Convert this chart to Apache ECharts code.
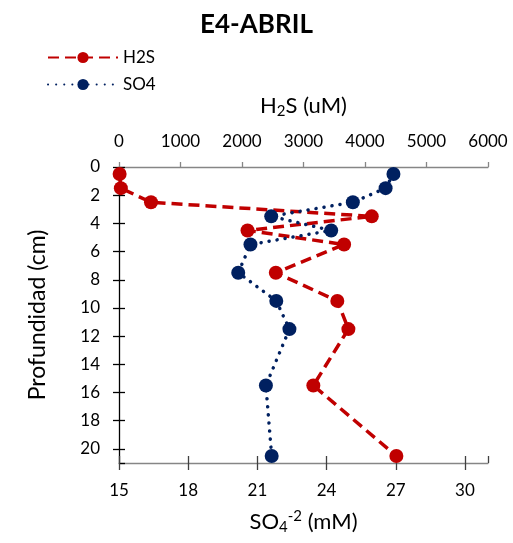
<!DOCTYPE html>
<html>
<head>
<meta charset="utf-8">
<script src="https://cdn.jsdelivr.net/npm/echarts@6/dist/echarts.min.js"></script>
<style>
  html, body { margin: 0; padding: 0; background: #fff; }
  #chart { width: 513px; height: 543px; }
</style>
</head>
<body>
<div id="chart"></div>
<script>
// Depth profile data (cm) for station E4, April
const depthH2S = [0.5, 1.5, 2.5, 3.5, 4.5, 5.5, 7.5, 9.5, 11.5, 15.5, 20.5];
const h2sValues = [10, 30, 520, 4110, 2090, 3660, 2550, 3550, 3730, 3160, 4510];   // uM
const depthSO4 = [0.5, 1.5, 2.5, 3.5, 4.5, 5.5, 7.5, 9.5, 11.5, 15.5, 20.5];
const so4Values = [26.9, 26.56, 25.14, 21.6, 24.2, 20.7, 20.17, 21.82, 22.39, 21.37, 21.62]; // mM

const FONT = 'Lato, "Open Sans", sans-serif';
const RED = '#C00000';
const NAVY = '#002060';

const chart = echarts.init(document.getElementById('chart'), null, { renderer: 'canvas' });

const h2sData = h2sValues.map((v, i) => [v, depthH2S[i]]);
const so4Data = so4Values.map((v, i) => [v, depthSO4[i]]);

const rich = {
  a: { fontFamily: FONT, fontSize: 22, color: '#000' },
  sub: { fontFamily: FONT, fontSize: 15, color: '#000', padding: [12, 0, 0, 0] },
  sup: { fontFamily: FONT, fontSize: 15, color: '#000', padding: [0, 0, 11, 0] }
};

const tickFont = { fontFamily: FONT, fontSize: 17, color: '#000' };

chart.setOption({
  animation: false,
  backgroundColor: '#fff',
  title: {
    text: 'E4-ABRIL',
    left: 'center',
    top: 7,
    textStyle: { fontFamily: FONT, fontWeight: 'bold', fontSize: 26, color: '#000' }
  },
  legend: {
    orient: 'vertical',
    left: 42,
    top: 44,
    itemWidth: 70,
    itemHeight: 14,
    itemGap: 10,
    textStyle: { fontFamily: FONT, fontSize: 17, color: '#000' },
    data: ['H2S', 'SO4']
  },
  grid: { left: 119, right: 25, top: 167, bottom: 80 },
  xAxis: [
    {
      type: 'value',
      position: 'bottom',
      min: 15, max: 31, interval: 3,
      name: '{a|SO}{sub|4}{sup|-2}{a| (mM)}',
      nameLocation: 'middle',
      nameGap: 45,
      nameTextStyle: { rich: rich },
      axisLine: { show: true, onZero: false, lineStyle: { color: '#868686', width: 1.3 } },
      axisTick: { show: true, length: 7, lineStyle: { color: '#404040', width: 1.3 } },
      axisLabel: Object.assign({ showMaxLabel: false, margin: 19 }, tickFont),
      splitLine: { show: false }
    },
    {
      type: 'value',
      position: 'top',
      min: 0, max: 6000, interval: 1000,
      name: '{a|H}{sub|2}{a|S (uM)}',
      nameLocation: 'middle',
      nameGap: 48,
      nameTextStyle: { rich: rich },
      axisLine: { show: true, onZero: false, lineStyle: { color: '#868686', width: 1.3 } },
      axisTick: { show: true, length: 5, lineStyle: { color: '#868686', width: 1.3 } },
      axisLabel: Object.assign({ margin: 17, formatter: v => String(v) }, tickFont),
      splitLine: { show: false }
    },
    {
      // inner half of the crossing ticks on the bottom axis
      type: 'value',
      position: 'bottom',
      min: 15, max: 31, interval: 3,
      axisLine: { show: false, onZero: false },
      axisTick: { show: true, inside: true, length: 7, lineStyle: { color: '#404040', width: 1.3 } },
      axisLabel: { show: false },
      splitLine: { show: false }
    }
  ],
  yAxis: [
    {
      type: 'value',
      inverse: true,
      min: 0, max: 21, interval: 2,
      name: 'Profundidad (cm)',
      nameLocation: 'middle',
      nameGap: 70,
      nameTextStyle: { fontFamily: FONT, fontSize: 23, color: '#000' },
      axisLine: { show: true, onZero: false, lineStyle: { color: '#000', width: 1.3 } },
      axisTick: { show: true, length: 6, lineStyle: { color: '#000', width: 1.3 } },
      axisLabel: Object.assign({ showMaxLabel: false, margin: 19 }, tickFont),
      splitLine: { show: false }
    },
    {
      // inner half of the crossing ticks on the depth axis
      type: 'value',
      inverse: true,
      position: 'left',
      min: 0, max: 21, interval: 2,
      axisLine: { show: false, onZero: false },
      axisTick: { show: true, inside: true, length: 6, lineStyle: { color: '#000', width: 1.3 } },
      axisLabel: { show: false },
      splitLine: { show: false }
    }
  ],
  series: [
    {
      name: 'H2S',
      type: 'line',
      xAxisIndex: 1,
      yAxisIndex: 0,
      data: h2sData,
      symbol: 'circle',
      symbolSize: 14,
      color: RED,
      itemStyle: { color: RED },
      lineStyle: { color: RED, width: 3.5, type: [11, 6] },
      z: 3
    },
    {
      name: 'SO4',
      type: 'line',
      xAxisIndex: 0,
      yAxisIndex: 0,
      data: so4Data,
      symbol: 'circle',
      symbolSize: 14,
      color: NAVY,
      itemStyle: { color: NAVY },
      lineStyle: { color: NAVY, width: 3.5, type: [0.1, 8], cap: 'round' },
      z: 4
    }
  ]
});
</script>
</body>
</html>
